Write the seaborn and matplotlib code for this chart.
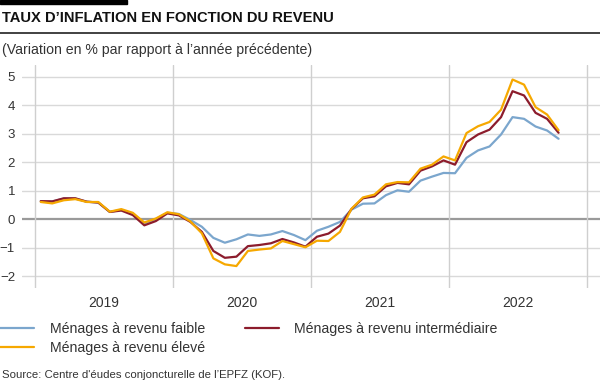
import pandas as pd
import numpy as np
import matplotlib
matplotlib.use("Agg")
import matplotlib.pyplot as plt
import seaborn as sns

# monthly data Jan 2019 - Oct 2022
months = pd.date_range("2019-01-01", "2022-10-01", freq="MS")
faible = [0.63, 0.62, 0.72, 0.72, 0.61, 0.58, 0.25, 0.32, 0.17, -0.15, 0.0, 0.22,
          0.18, -0.03, -0.27, -0.66, -0.83, -0.71, -0.54, -0.59, -0.54, -0.42, -0.56, -0.74,
          -0.41, -0.27, -0.10, 0.33, 0.54, 0.55, 0.84, 1.01, 0.96, 1.35, 1.49, 1.62,
          1.61, 2.15, 2.41, 2.55, 2.97, 3.58, 3.52, 3.25, 3.11, 2.82]
intermediaire = [0.63, 0.62, 0.73, 0.73, 0.61, 0.58, 0.25, 0.30, 0.14, -0.22, -0.07, 0.20,
                 0.13, -0.10, -0.45, -1.12, -1.36, -1.32, -0.95, -0.91, -0.85, -0.70, -0.82, -0.97,
                 -0.62, -0.51, -0.23, 0.35, 0.73, 0.80, 1.15, 1.27, 1.22, 1.70, 1.85, 2.06,
                 1.91, 2.70, 2.97, 3.14, 3.58, 4.49, 4.34, 3.73, 3.52, 3.03]
eleve = [0.60, 0.55, 0.66, 0.70, 0.60, 0.60, 0.26, 0.35, 0.22, -0.12, 0.02, 0.24,
         0.17, -0.08, -0.50, -1.38, -1.59, -1.65, -1.12, -1.07, -1.03, -0.77, -0.88, -0.99,
         -0.76, -0.77, -0.45, 0.36, 0.76, 0.86, 1.22, 1.30, 1.29, 1.77, 1.91, 2.20,
         2.06, 3.02, 3.26, 3.41, 3.84, 4.90, 4.72, 3.93, 3.67, 3.12]
years = ["2019", "2020", "2021", "2022"]
series = ["Ménages à revenu faible", "Ménages à revenu intermédiaire", "Ménages à revenu élevé"]
colors = ["#7ba6cd", "#8c1c2c", "#f6a800"]

# month position (centre of each month, in months since Jan 2019)
pos = np.arange(len(months)) + 0.5
df = pd.DataFrame({"pos": np.tile(pos, 3),
                   "value": faible + intermediaire + eleve,
                   "serie": np.repeat(series, len(months))})

sns.set_style("white")
plt.rcParams["font.family"] = ["Liberation Sans", "DejaVu Sans"]

fig = plt.figure(figsize=(6, 3.83), dpi=100)
ax = fig.add_axes([22 / 600, 1 - 288 / 383, 1 - 22 / 600, (288 - 65) / 383])

# grid
for v in range(-2, 6):
    if v == 0:
        ax.axhline(0, color="#9a9a9a", lw=1.6, zorder=1)
    else:
        ax.axhline(v, color="#d9d9d9", lw=1.0, zorder=1)
for b in range(0, 49, 12):
    ax.axvline(b, color="#cfcfcf", lw=1.0, zorder=1)

sns.lineplot(data=df, x="pos", y="value", hue="serie", hue_order=series,
             palette=colors, lw=1.6, ax=ax, legend=False, zorder=3)

ax.set_xlim(-1.13, 49.1)
ax.set_ylim(-2.42, 5.41)
ax.set_xticks([6, 18, 30, 42])
ax.set_xticklabels(years)
ax.set_yticks(range(-2, 6))
ax.set_yticklabels([str(v).replace("-", "\u2212") for v in range(-2, 6)])
ax.tick_params(length=0, labelsize=9.5, colors="#333333")
ax.tick_params(axis="x", labelsize=10, pad=6)
ax.tick_params(axis="y", pad=5)
ax.set_xlabel("")
ax.set_ylabel("")
for s in ax.spines.values():
    s.set_visible(False)

# header
fig.add_artist(plt.Rectangle((0, 1 - 4 / 383), 127 / 600, 4 / 383, color="black",
                             transform=fig.transFigure))
fig.text(2 / 600, 1 - 18 / 383, "TAUX D\u2019INFLATION EN FONCTION DU REVENU",
         fontsize=10.6, fontweight="bold", va="center", ha="left", color="#111111")
fig.add_artist(plt.Line2D([0, 1], [1 - 33 / 383, 1 - 33 / 383], color="#333333", lw=1.3,
                          transform=fig.transFigure))
fig.text(2 / 600, 1 - 50 / 383, "(Variation en % par rapport à l\u2019année précédente)",
         fontsize=10.2, va="center", ha="left", color="#333333")

# legend
handles = [plt.Line2D([], [], color=colors[0], lw=1.6),
           plt.Line2D([], [], color=colors[2], lw=1.6),
           plt.Line2D([], [], color=colors[1], lw=1.6)]
labels = [series[0], series[2], series[1]]
fig.legend(handles, labels, ncol=2, loc="upper left", bbox_to_anchor=(0, 1 - 322 / 383),
           frameon=False, fontsize=10.2, borderpad=0, borderaxespad=0,
           handlelength=2.4, handletextpad=1.1, columnspacing=2.8, labelspacing=0.35,
           labelcolor="#333333")

fig.text(2 / 600, 1 - 375 / 383, "Source: Centre d'éudes conjoncturelle de l\u2019EPFZ (KOF).",
         fontsize=8.2, va="center", ha="left", color="#333333")

fig.savefig("out.png", dpi=100)
